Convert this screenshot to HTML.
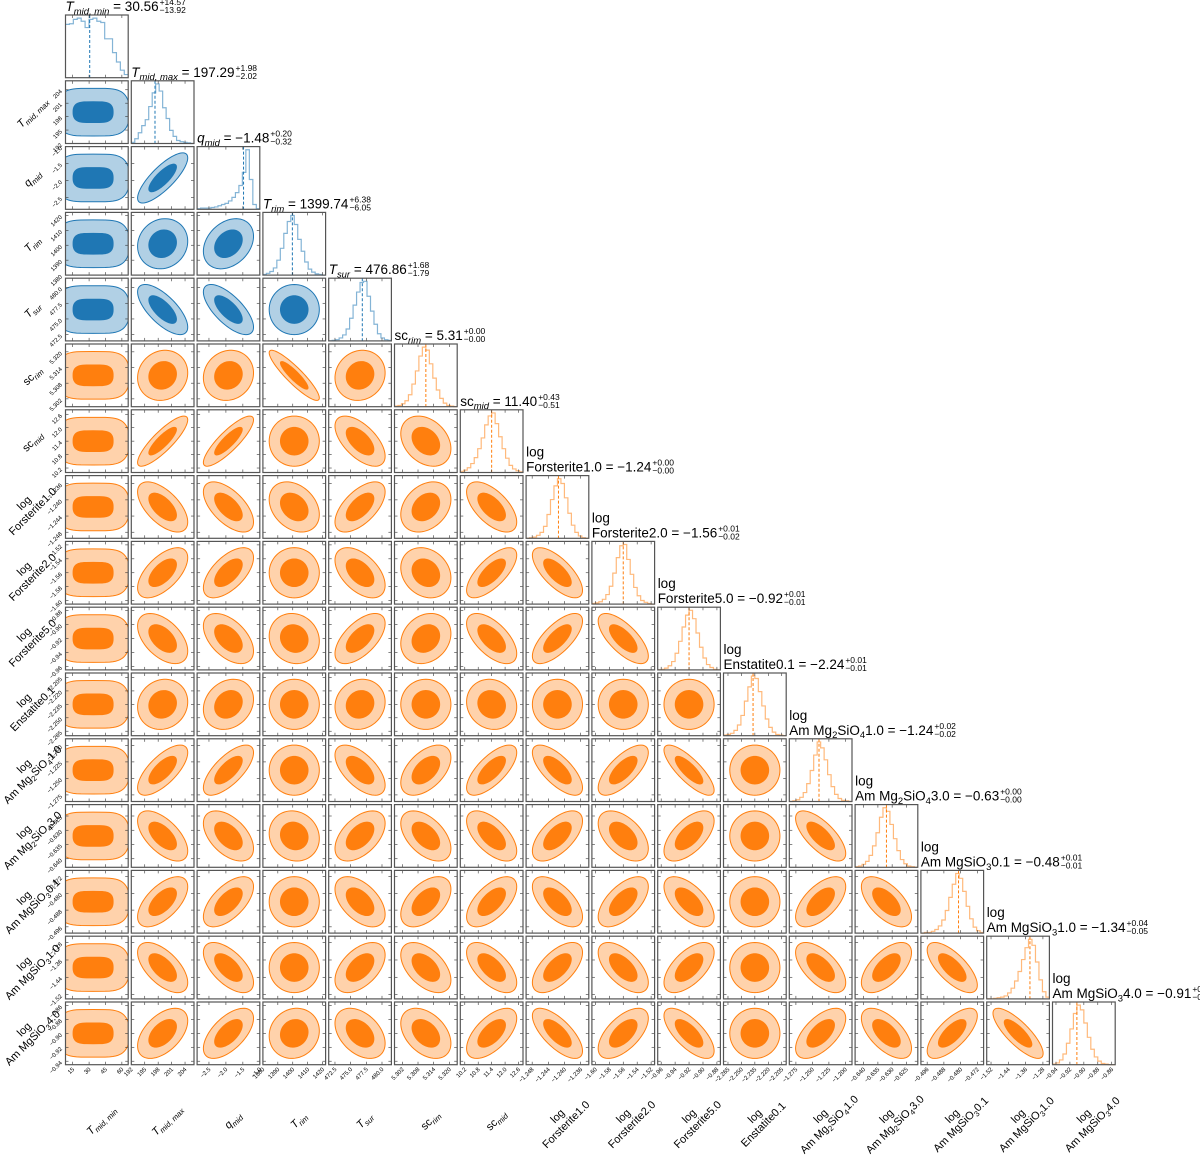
<!DOCTYPE html>
<html><head><meta charset="utf-8"><style>
html,body{margin:0;padding:0;background:#fff;}
svg{display:block;font-family:"Liberation Sans",sans-serif;}
</style></head><body>
<svg id="chart" width="1200" height="1161" viewBox="0 0 1200 1161" xmlns="http://www.w3.org/2000/svg"></svg>
<script>
// ---------- data ----------
const paramNames = ['T_mid_min','T_mid_max','q_mid','T_rim','T_sur','sc_rim','sc_mid','F1','F2','F5','En01','AmMg2SiO4_1','AmMg2SiO4_3','AmMgSiO3_01','AmMgSiO3_1','AmMgSiO3_4'];
const rangeMin = [8.4,192,-2.85,1380,471.5,5.299,10.0,-1.2495,-1.605,-0.965,-2.27,-1.285,-0.643,-0.499,-1.54,-0.945];
const rangeMax = [65.8,206,-1.0,1422,481.5,5.323,12.8,-1.234,-1.515,-0.875,-2.2,-1.19,-0.621,-0.469,-1.25,-0.855];
const tickVals = [
 [15,30,45,60],[192,195,198,201,204],[-2.5,-2.0,-1.5,-1.0],[1380,1390,1400,1410,1420],
 [472.5,475.0,477.5,480.0],[5.302,5.308,5.314,5.320],[10.2,10.8,11.4,12.0,12.6],
 [-1.248,-1.244,-1.240,-1.236],[-1.60,-1.58,-1.56,-1.54,-1.52],[-0.96,-0.94,-0.92,-0.90,-0.88],
 [-2.265,-2.250,-2.235,-2.220,-2.205],[-1.275,-1.250,-1.225,-1.200],[-0.640,-0.635,-0.630,-0.625],
 [-0.496,-0.488,-0.480,-0.472],[-1.52,-1.44,-1.36,-1.28],[-0.94,-0.92,-0.90,-0.88,-0.86]];
const tickLabels = [
 ['15','30','45','60'],['192','195','198','201','204'],['−2.5','−2.0','−1.5','−1.0'],['1380','1390','1400','1410','1420'],
 ['472.5','475.0','477.5','480.0'],['5.302','5.308','5.314','5.320'],['10.2','10.8','11.4','12.0','12.6'],
 ['−1.248','−1.244','−1.240','−1.236'],['−1.60','−1.58','−1.56','−1.54','−1.52'],['−0.96','−0.94','−0.92','−0.90','−0.88'],
 ['−2.265','−2.250','−2.235','−2.220','−2.205'],['−1.275','−1.250','−1.225','−1.200'],['−0.640','−0.635','−0.630','−0.625'],
 ['−0.496','−0.488','−0.480','−0.472'],['−1.52','−1.44','−1.36','−1.28'],['−0.94','−0.92','−0.90','−0.88','−0.86']];
const medians = [30.56,197.29,-1.48,1399.74,476.86,5.311,11.40,-1.2415,-1.56,-0.92,-2.237,-1.24,-0.632,-0.481,-1.34,-0.91];
const valueText = ['30.56','197.29','−1.48','1399.74','476.86','5.31','11.40','−1.24','−1.56','−0.92','−2.24','−1.24','−0.63','−0.48','−1.34','−0.91'];
const errPlus = ['+14.57','+1.98','+0.20','+6.38','+1.68','+0.00','+0.43','+0.00','+0.01','+0.01','+0.01','+0.02','+0.00','+0.01','+0.04','+0.01'];
const errMinus = ['−13.92','−2.02','−0.32','−6.05','−1.79','−0.00','−0.51','−0.00','−0.02','−0.01','−0.01','−0.02','−0.00','−0.01','−0.05','−0.01'];
const hist0=[0.85,0.86,0.93,0.95,0.9,0.8,0.93,0.95,0.9,0.88,0.62,0.62,0.4,0.25,0.12,0.05];
const hist1=[0.02,0.08,0.18,0.3,0.4,0.62,0.85,1.0,0.88,0.6,0.42,0.22,0.12,0.05,0.03,0.02,0.01,0.0];
const hist2=[0.01,0.02,0.02,0.02,0.03,0.04,0.06,0.08,0.1,0.14,0.2,0.28,0.4,0.62,1.0,0.5,0.08,0.01];
const hist3=[0.01,0.03,0.06,0.12,0.25,0.45,0.7,0.9,1.0,0.85,0.6,0.4,0.22,0.1,0.05,0.02,0.01,0.0];
const hist4=[0,0.01,0.02,0.05,0.1,0.2,0.38,0.6,0.82,0.98,1.0,0.75,0.5,0.28,0.12,0.05,0.02,0.01];
const hist5=[0.01,0.02,0.05,0.1,0.2,0.38,0.6,0.85,1.0,0.95,0.72,0.48,0.28,0.14,0.06,0.02,0.01,0];
const hist6=[0.02,0.04,0.08,0.15,0.25,0.4,0.58,0.8,0.95,1.0,0.82,0.6,0.4,0.24,0.12,0.06,0.03,0.01];
const hist7=[0,0.01,0.02,0.05,0.1,0.2,0.4,0.65,0.88,1.0,0.92,0.68,0.42,0.22,0.1,0.04,0.01,0];
const hist8=[0.01,0.02,0.04,0.08,0.16,0.3,0.52,0.78,0.98,1.0,0.75,0.5,0.28,0.14,0.06,0.03,0.01,0];
const hist9=[0,0.01,0.03,0.07,0.14,0.28,0.48,0.72,0.92,1.0,0.86,0.62,0.38,0.2,0.09,0.04,0.01,0];
const hist10=[0.01,0.02,0.04,0.09,0.18,0.34,0.58,0.82,1.0,0.96,0.74,0.5,0.28,0.14,0.06,0.02,0.01,0];
const hist11=[0,0.01,0.03,0.07,0.15,0.3,0.52,0.78,1.0,0.9,0.7,0.45,0.25,0.12,0.05,0.02,0.01,0];
const hist12=[0.01,0.02,0.05,0.1,0.2,0.36,0.58,0.84,1.0,0.94,0.72,0.48,0.28,0.13,0.06,0.02,0.01,0];
const hist13=[0,0.01,0.01,0.03,0.06,0.12,0.22,0.38,0.6,0.82,1.0,0.92,0.7,0.45,0.24,0.1,0.04,0.01];
const hist14=[0,0,0.01,0.02,0.03,0.05,0.1,0.18,0.3,0.46,0.66,0.86,1.0,0.9,0.62,0.32,0.12,0.03];
const hist15=[0.01,0.03,0.08,0.18,0.36,0.6,0.86,1.0,0.92,0.7,0.46,0.26,0.13,0.06,0.02,0.01,0,0];
const hists=[hist0,hist1,hist2,hist3,hist4,hist5,hist6,hist7,hist8,hist9,hist10,hist11,hist12,hist13,hist14,hist15];
// correlation (row i, col j<i)
const corr = [
 [],
 [0],
 [0,0.8],
 [0,0.1,0.3],
 [0,-0.7,-0.7,0],
 [0,0.1,0.1,-0.9,0.1],
 [0,0.85,0.85,0,-0.6,-0.3],
 [0,-0.6,-0.6,-0.3,0.6,0.3,-0.6],
 [0,0.6,0.6,0,-0.5,-0.2,0.7,-0.7],
 [0,-0.5,-0.5,-0.1,0.6,0.2,-0.6,0.7,-0.7],
 [0,0.1,0.2,0,0.1,0,-0.1,0,0,0],
 [0,0.7,0.7,0,-0.6,0.5,0.7,-0.7,0.7,-0.8,0],
 [0,-0.6,-0.5,-0.1,0.5,-0.5,-0.6,0.6,-0.5,0.6,0,-0.7],
 [0,0.6,0.6,0,-0.5,0.5,0.6,-0.6,0.6,-0.6,0,0.6,-0.6],
 [0,-0.6,-0.6,0,0.5,-0.5,-0.6,0.6,-0.6,0.6,0,-0.6,0.6,-0.7],
 [0,0.5,0.6,0.1,-0.4,-0.4,0.6,-0.7,0.6,-0.7,0,0.6,-0.6,0.7,-0.8]];
const labels = [
 {l1:null,p:[['T','i'],['mid, min','si']]},
 {l1:null,p:[['T','i'],['mid, max','si']]},
 {l1:null,p:[['q','i'],['mid','si']]},
 {l1:null,p:[['T','i'],['rim','si']]},
 {l1:null,p:[['T','i'],['sur','si']]},
 {l1:null,p:[['sc','n'],['rim','si']]},
 {l1:null,p:[['sc','n'],['mid','si']]},
 {l1:'log',p:[['Forsterite1.0','n']]},
 {l1:'log',p:[['Forsterite2.0','n']]},
 {l1:'log',p:[['Forsterite5.0','n']]},
 {l1:'log',p:[['Enstatite0.1','n']]},
 {l1:'log',p:[['Am Mg','n'],['2','s'],['SiO','n'],['4','s'],['1.0','n']]},
 {l1:'log',p:[['Am Mg','n'],['2','s'],['SiO','n'],['4','s'],['3.0','n']]},
 {l1:'log',p:[['Am MgSiO','n'],['3','s'],['0.1','n']]},
 {l1:'log',p:[['Am MgSiO','n'],['3','s'],['1.0','n']]},
 {l1:'log',p:[['Am MgSiO','n'],['3','s'],['4.0','n']]}];

// ---------- geometry ----------
const X0=65.5, Y0=15, P=65.8, S=62.7, N=16;
const NS='http://www.w3.org/2000/svg';
const svg=document.getElementById('chart');
function el(tag,attrs,parent){const e=document.createElementNS(NS,tag);for(const k in attrs)e.setAttribute(k,attrs[k]);(parent||svg).appendChild(e);return e;}
function px(j,v){return X0+j*P+(v-rangeMin[j])/(rangeMax[j]-rangeMin[j])*S;}
function py(i,v){return Y0+i*P+S-(v-rangeMin[i])/(rangeMax[i]-rangeMin[i])*S;}
function colorOf(i){return i<5?'#1f77b4':'#ff7f0e';}
function addParts(t,parts,fs){
  let shifted=false;
  parts.forEach(pt=>{
    const ts=el('tspan',{},t);ts.textContent=pt[0];
    const isSub=(pt[1]==='s'||pt[1]==='si');
    if(pt[1]==='i'||pt[1]==='si')ts.setAttribute('font-style','italic');
    if(isSub){ts.setAttribute('font-size',fs*0.7);if(!shifted){ts.setAttribute('dy',fs*0.25);shifted=true;}}
    else if(shifted){ts.setAttribute('dy',-fs*0.25);shifted=false;}
  });
  return shifted;
}
const defs=el('defs',{});

for(let i=0;i<N;i++){
  for(let j=0;j<=i;j++){
    const x=X0+j*P, y=Y0+i*P;
    const g=el('g',{});
    
    
    const cp=el('clipPath',{id:'c'+i+'_'+j},defs);
    el('rect',{x:x,y:y,width:S,height:S},cp);
    const col=colorOf(i);
    if(i===j){
      const h=hists[i], n=h.length, mx=Math.max(...h);
      let d='';
      for(let b=0;b<n;b++){
        const x1=x+b/n*S, x2=x+(b+1)/n*S, yy=y+S-h[b]/mx*S*0.95;
        d+=(b===0?'M'+x1+','+yy:'L'+x1+','+yy)+'L'+x2+','+yy;
      }
      const hp=el('path',{d:d,fill:'none',stroke:col,'stroke-opacity':0.55,'stroke-width':1.2},g);
      
      
      const mxp=px(i,medians[i]);
      const ml=el('line',{x1:mxp,x2:mxp,y1:y,y2:y+S,stroke:col,'stroke-width':1,'stroke-dasharray':'3,2'},g);
      
      
    } else {
      const r=corr[i][j], first=(j===0);
      const cxp=x+S/2+(first?-0.12:0)*S/2, cyp=y+S/2, hh=S/2;
      const gc=el('g',{'clip-path':'url(#c'+i+'_'+j+')'},g);
      [[2.0,0.35],[1.1,1]].forEach((lv,k)=>{
        const kk=lv[0]*0.4, a=kk*Math.sqrt(1+r), b=kk*Math.sqrt(1-r);
        let d='';
        for(let s=0;s<=72;s++){
          const t=s/72*2*Math.PI;
          let u,v;
          if(first){
            const c=Math.cos(t), sn=Math.sin(t);
            u=Math.sign(c)*Math.pow(Math.abs(c),0.45)*kk*1.45;
            v=Math.sign(sn)*Math.pow(Math.abs(sn),0.8)*kk*(k===0?0.95:0.75);
          } else {
            u=(a*Math.cos(t)-b*Math.sin(t))/Math.SQRT2; v=(a*Math.cos(t)+b*Math.sin(t))/Math.SQRT2;
          }
          d+=(s===0?'M':'L')+(cxp+u*hh).toFixed(2)+','+(cyp-v*hh).toFixed(2);
        }
        const cpth=el('path',{d:d+'Z',fill:col,'fill-opacity':lv[1],stroke:col,'stroke-width':1},gc);
        
        
      });
    }
    tickVals[j].forEach(v=>{const tx=px(j,v);el('line',{x1:tx,x2:tx,y1:y+S,y2:y+S-3,stroke:'#333','stroke-width':0.6},g);el('line',{x1:tx,x2:tx,y1:y,y2:y+3,stroke:'#333','stroke-width':0.6},g);});
    if(i!==j)tickVals[i].forEach(v=>{const ty=py(i,v);el('line',{x1:x,x2:x+3,y1:ty,y2:ty,stroke:'#333','stroke-width':0.6},g);el('line',{x1:x+S,x2:x+S-3,y1:ty,y2:ty,stroke:'#333','stroke-width':0.6},g);});
    const fr=el('rect',{x:x,y:y,width:S,height:S,fill:'none',stroke:'#555','stroke-width':1.2},g);
    
    
  }
}

const bottom=Y0+15*P+S;
for(let j=0;j<N;j++){
  tickVals[j].forEach((v,k)=>{
    const tx=px(j,v);
    const t=el('text',{x:0,y:0,'font-size':6,'text-anchor':'end',transform:'translate('+(tx+2)+','+(bottom+5)+') rotate(-45)',fill:'#000'});
    
    
    t.textContent=tickLabels[j][k];
  });
  const cx=X0+j*P+S/2+4, cy=1120;
  const g=el('g',{transform:'translate('+cx+','+cy+') rotate(-45)'});
  
  
  const L=labels[j];
  if(L.l1){const t1=el('text',{x:0,y:-2,'font-size':11,'text-anchor':'middle'},g);t1.textContent=L.l1;}
  const t2=el('text',{x:0,y:L.l1?10:4,'font-size':11,'text-anchor':'middle'},g);addParts(t2,L.p,11);
}
for(let i=1;i<N;i++){
  tickVals[i].forEach((v,k)=>{
    const ty=py(i,v);
    const t=el('text',{x:0,y:0,'font-size':6,'text-anchor':'end',transform:'translate('+(X0-3)+','+(ty+2)+') rotate(-45)',fill:'#000'});
    
    
    t.textContent=tickLabels[i][k];
  });
  const cy=Y0+i*P+S/2, cx=L0=(labels[i].l1?28:32);
  const g=el('g',{transform:'translate('+cx+','+cy+') rotate(-45)'});
  
  
  const L=labels[i];
  if(L.l1){const t1=el('text',{x:0,y:-2,'font-size':11,'text-anchor':'middle'},g);t1.textContent=L.l1;}
  const t2=el('text',{x:0,y:L.l1?10:4,'font-size':11,'text-anchor':'middle'},g);addParts(t2,L.p,11);
}
for(let i=0;i<N;i++){
  const x=X0+i*P, y=Y0+i*P-4;
  const L=labels[i];
  if(L.l1){const t1=el('text',{x:x,y:y-15,'font-size':13.5});t1.textContent='log';
    
    }
  const t=el('text',{x:x,y:y,'font-size':13.5});
  
  
  const sh=addParts(t,L.p,13.5);
  const ts=el('tspan',{},t);ts.textContent=' = '+valueText[i];
  if(sh)ts.setAttribute('dy',-13.5*0.25);
  const w=t.getComputedTextLength();
  const ep=el('text',{x:x+w+1,y:y-6,'font-size':8.5});ep.textContent=errPlus[i];
  
  
  const em=el('text',{x:x+w+1,y:y+2,'font-size':8.5});em.textContent=errMinus[i];
  
  
}
</script>
</body></html>
